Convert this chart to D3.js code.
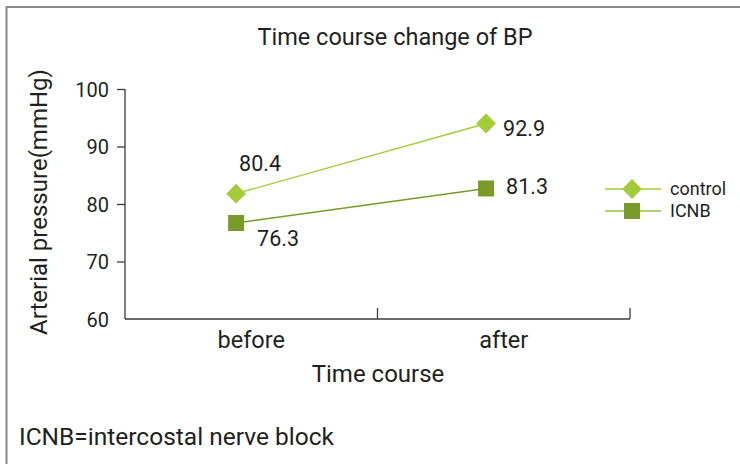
<!DOCTYPE html>
<html>
<head>
<meta charset="utf-8">
<script src="https://cdn.jsdelivr.net/npm/d3@7"></script>
<style>
  html, body { margin: 0; padding: 0; background: #fff; }
  svg { display: block; }
  text { font-family: Roboto, "Liberation Sans", sans-serif; fill: #231f20; }
</style>
</head>
<body>
<script>
// ---- data ----
const categories = ["before", "after"];
const seriesNames = ["control", "ICNB"];
const controlValues = [81.8, 94.0];   // plotted positions
const icnbValues = [76.7, 82.7];
const controlLabels = ["80.4", "92.9"]; // data labels as printed
const icnbLabels = ["76.3", "81.3"];
const yTicks = [60, 70, 80, 90, 100];
const title = "Time course change of BP";
const xTitle = "Time course";
const yTitle = "Arterial pressure(mmHg)";
const footnote = "ICNB=intercostal nerve block";

// ---- layout ----
const W = 740, H = 464;
const svg = d3.select("body").append("svg").attr("width", W).attr("height", H);

// outer frame
svg.append("rect").attr("x", 6.5).attr("y", 7).attr("width", W + 10).attr("height", H + 10)
  .attr("fill", "none").attr("stroke", "#8a8a8a").attr("stroke-width", 2);

const plot = { left: 125, right: 630, top: 89, bottom: 319 };

const y = d3.scaleLinear().domain([60, 100]).range([plot.bottom, plot.top]);
const xBand = d3.scaleBand().domain(categories).range([plot.left, plot.right]);
const xMark = d3.scalePoint().domain(categories)
  .range([xBand("before") + xBand.bandwidth() * 0.44, xBand("after") + xBand.bandwidth() * 0.43]);

const axisColor = "#3a3a3a";

// y axis
const yAxis = svg.append("g").attr("transform", `translate(${plot.left},0)`)
  .call(d3.axisLeft(y).tickValues(yTicks).tickSize(8).tickPadding(8));
yAxis.select(".domain").attr("stroke", axisColor).attr("stroke-width", 1.3).attr("d", `M-0,${plot.top}V${plot.bottom}`);
yAxis.selectAll(".tick line").attr("stroke", axisColor).attr("stroke-width", 1.3);
yAxis.selectAll(".tick").filter(d => d === 60).select("line").remove();
yAxis.selectAll(".tick text").attr("font-size", 20).attr("fill", "#231f20").attr("dy", "0.35em");

// x axis (ticks at band boundaries, pointing inward)
const xg = svg.append("g");
xg.append("line").attr("x1", plot.left).attr("x2", plot.right)
  .attr("y1", plot.bottom).attr("y2", plot.bottom)
  .attr("stroke", axisColor).attr("stroke-width", 1.3);
const boundaries = categories.map(c => xBand(c) + xBand.bandwidth());
xg.selectAll("line.tk").data(boundaries).join("line").attr("class", "tk")
  .attr("x1", d => d).attr("x2", d => d)
  .attr("y1", plot.bottom).attr("y2", plot.bottom - 11)
  .attr("stroke", axisColor).attr("stroke-width", 1.3);
xg.selectAll("text.cat").data(categories).join("text").attr("class", "cat")
  .attr("x", d => xBand(d) + xBand.bandwidth() / 2)
  .attr("y", 348).attr("text-anchor", "middle").attr("font-size", 23.5)
  .text(d => d);

// titles
svg.append("text").attr("x", 395).attr("y", 45).attr("text-anchor", "middle")
  .attr("font-size", 23.5).text(title);
svg.append("text").attr("x", 378).attr("y", 382).attr("text-anchor", "middle")
  .attr("font-size", 24).text(xTitle);
svg.append("text").attr("transform", `translate(47,202) rotate(-90)`)
  .attr("text-anchor", "middle").attr("font-size", 24).text(yTitle);
svg.append("text").attr("x", 19).attr("y", 445).attr("font-size", 24.5).text(footnote);

// series
const colors = { control: "#a5cb3a", ICNB: "#789a29" };
const legendLineColors = { control: "#a5cb3a", ICNB: "#9dbf45" };
const series = [
  { name: "control", values: controlValues, labels: controlLabels },
  { name: "ICNB", values: icnbValues, labels: icnbLabels }
];

const line = d3.line().x((d, i) => xMark(categories[i])).y(d => y(d));
const diamond = d3.symbol().type(d3.symbolSquare).size(14 * 14);
const square = d3.symbol().type(d3.symbolSquare).size(16 * 16);

series.forEach(s => {
  svg.append("path").datum(s.values).attr("d", line)
    .attr("fill", "none").attr("stroke", colors[s.name]).attr("stroke-width", 1.4);
  svg.selectAll(null).data(s.values).join("path")
    .attr("transform", (d, i) => `translate(${xMark(categories[i])},${y(d)})` + (s.name === "control" ? " rotate(45)" : ""))
    .attr("d", s.name === "control" ? diamond : square)
    .attr("fill", colors[s.name]);
});

// data labels
const lblOffsets = {
  control: [[3, -23], [17, 12]],
  ICNB: [[21, 23], [20, 6]]
};
series.forEach(s => {
  svg.selectAll(null).data(s.values).join("text")
    .attr("x", (d, i) => xMark(categories[i]) + lblOffsets[s.name][i][0])
    .attr("y", (d, i) => y(d) + lblOffsets[s.name][i][1])
    .attr("font-size", 21.5)
    .text((d, i) => s.labels[i]);
});

// legend
const lg = svg.append("g");
seriesNames.forEach((n, i) => {
  const cy = 189 + i * 22;
  lg.append("line").attr("x1", 605).attr("x2", 661).attr("y1", cy).attr("y2", cy)
    .attr("stroke", legendLineColors[n]).attr("stroke-width", 1.6);
  lg.append("path").attr("transform", `translate(632,${cy})` + (n === "control" ? " rotate(45)" : ""))
    .attr("d", n === "control" ? diamond : square).attr("fill", colors[n]);
  lg.append("text").attr("x", 670).attr("y", cy + 6).attr("font-size", 18).text(n);
});
</script>
</body>
</html>
